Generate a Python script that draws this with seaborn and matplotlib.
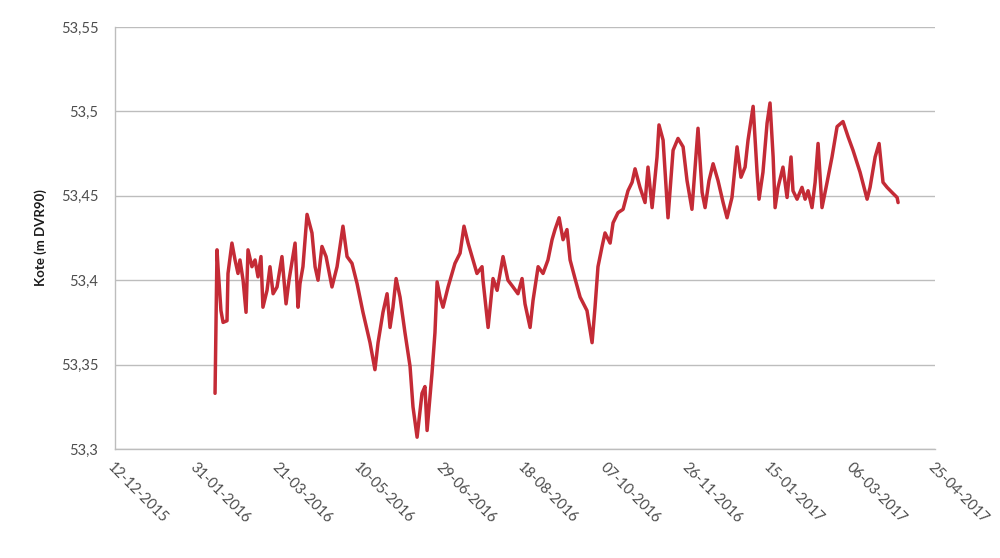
import matplotlib
matplotlib.use("Agg")
import matplotlib.pyplot as plt
import matplotlib.dates as mdates
import numpy as np
import pandas as pd
import seaborn as sns

# Water level readings: day of year counted from 2016-01-01, level in m DVR90
day_of_year = [
    41.0, 42.2, 42.8, 44.6, 45.9, 48.3, 48.9, 51.3, 53.2, 55.0, 56.2, 58.1, 59.9,
    61.1, 63.5, 65.4, 67.2, 69.0, 70.2, 72.7, 74.5, 76.4, 78.8, 81.8, 84.3, 86.1,
    89.8, 91.6, 92.8, 94.6, 97.1, 100.1, 102.0, 103.8, 106.2, 108.7, 112.3, 115.4,
    119.0, 121.5, 124.5, 127.6, 131.2, 135.5, 138.5, 140.4, 143.4, 145.9, 147.7,
    149.5, 151.4, 153.8, 156.8, 159.9, 161.7, 164.2, 167.2, 169.0, 170.3, 173.3,
    175.1, 176.4, 178.2, 180.0, 183.1, 187.3, 190.4, 192.8, 195.3, 198.3, 200.7,
    203.8, 204.4, 207.5, 210.5, 213.0, 214.8, 216.6, 219.6, 222.7, 225.7, 228.2,
    230.0, 233.1, 234.9, 238.0, 241.0, 244.0, 246.5, 248.3, 250.8, 253.2, 255.6,
    257.5, 260.5, 263.6, 267.8, 270.9, 272.7, 274.5, 277.0, 278.8, 281.9, 283.7,
    286.7, 289.8, 292.8, 295.3, 297.1, 300.1, 303.2, 305.0, 307.5, 310.5, 311.7,
    314.2, 317.2, 320.3, 323.3, 326.4, 328.8, 331.8, 335.5, 338.0, 339.8, 342.2,
    344.7, 347.7, 350.8, 353.2, 356.2, 359.3, 361.7, 364.2, 366.0, 369.1, 371.5,
    372.7, 375.1, 377.6, 379.4, 381.3, 382.5, 384.3, 387.3, 389.8, 392.2, 393.4,
    395.9, 398.9, 400.8, 402.6, 405.0, 406.9, 408.7, 411.1, 414.2, 417.2, 420.3,
    423.9, 427.0, 430.0, 434.3, 438.6, 440.4, 443.5, 445.9, 448.3, 450.8, 453.8,
    456.9, 457.5,
]
level = [
    53.333, 53.418, 53.408, 53.382, 53.375, 53.376, 53.404, 53.422, 53.412, 53.404,
    53.412, 53.400, 53.381, 53.418, 53.408, 53.412, 53.402, 53.414, 53.384, 53.394,
    53.408, 53.392, 53.396, 53.414, 53.386, 53.400, 53.422, 53.384, 53.398, 53.408,
    53.439, 53.428, 53.408, 53.400, 53.420, 53.414, 53.396, 53.408, 53.432, 53.414,
    53.410, 53.398, 53.381, 53.363, 53.347, 53.363, 53.381, 53.392, 53.372, 53.384,
    53.401, 53.390, 53.369, 53.349, 53.325, 53.307, 53.333, 53.337, 53.311, 53.345,
    53.369, 53.399, 53.390, 53.384, 53.396, 53.410, 53.416, 53.432, 53.422, 53.412,
    53.404, 53.408, 53.400, 53.372, 53.401, 53.394, 53.404, 53.414, 53.400, 53.396,
    53.392, 53.401, 53.386, 53.372, 53.388, 53.408, 53.404, 53.412, 53.424, 53.430,
    53.437, 53.424, 53.430, 53.412, 53.401, 53.390, 53.382, 53.363, 53.384, 53.408,
    53.420, 53.428, 53.422, 53.434, 53.440, 53.442, 53.453, 53.458, 53.466, 53.455,
    53.446, 53.467, 53.443, 53.473, 53.492, 53.483, 53.437, 53.477, 53.484, 53.479,
    53.459, 53.442, 53.490, 53.452, 53.443, 53.459, 53.469, 53.459, 53.446, 53.437,
    53.449, 53.479, 53.461, 53.467, 53.483, 53.503, 53.464, 53.448, 53.464, 53.493,
    53.505, 53.473, 53.443, 53.455, 53.467, 53.449, 53.473, 53.453, 53.448, 53.455,
    53.448, 53.453, 53.443, 53.458, 53.481, 53.443, 53.458, 53.473, 53.491, 53.494,
    53.485, 53.477, 53.464, 53.448, 53.455, 53.473, 53.481, 53.458, 53.455, 53.452,
    53.449, 53.446,
]

y_ticks = [53.3, 53.35, 53.4, 53.45, 53.5, 53.55]
y_tick_labels = ["53,3", "53,35", "53,4", "53,45", "53,5", "53,55"]
x_tick_dates = pd.date_range("2015-12-12", "2017-04-25", freq="50D")

df = pd.DataFrame({
    "dato": pd.Timestamp("2016-01-01") + pd.to_timedelta(day_of_year, unit="D"),
    "kote": level,
})

sns.set_style("white")
plt.rcParams["font.family"] = ["Lato", "DejaVu Sans"]

fig = plt.figure(figsize=(10, 5.58), dpi=100)
ax = fig.add_axes([0.115, 0.1953, 0.82, 0.7563])

sns.lineplot(data=df, x="dato", y="kote", ax=ax, color="#C42B36", linewidth=2.5)

grid_col = "#BDBDBD"
ax.set_ylim(53.3, 53.55)
ax.set_yticks(y_ticks)
ax.set_yticklabels(y_tick_labels)
ax.set_xlim(x_tick_dates[0], x_tick_dates[-1])
ax.set_xticks(x_tick_dates)
ax.xaxis.set_major_formatter(mdates.DateFormatter("%d-%m-%Y"))

ax.grid(axis="y", color=grid_col, linewidth=1.0)
ax.grid(axis="x", visible=False)
ax.set_axisbelow(True)
for side in ["top", "right"]:
    ax.spines[side].set_visible(False)
for side in ["left", "bottom"]:
    ax.spines[side].set_color(grid_col)
    ax.spines[side].set_linewidth(1.0)

ax.tick_params(axis="both", length=0, labelsize=10.5, labelcolor="#4d4d4d")
ax.tick_params(axis="y", pad=12)
ax.tick_params(axis="x", pad=8)
for lbl in ax.get_xticklabels():
    lbl.set_rotation(-45)
    lbl.set_ha("left")
    lbl.set_va("top")
    lbl.set_rotation_mode("anchor")

ax.set_xlabel("")
ax.set_ylabel("Kote (m DVR90)", fontsize=9.5, fontweight="bold", color="#1a1a1a", labelpad=10)

fig.savefig("out.png", dpi=100, facecolor="white")
